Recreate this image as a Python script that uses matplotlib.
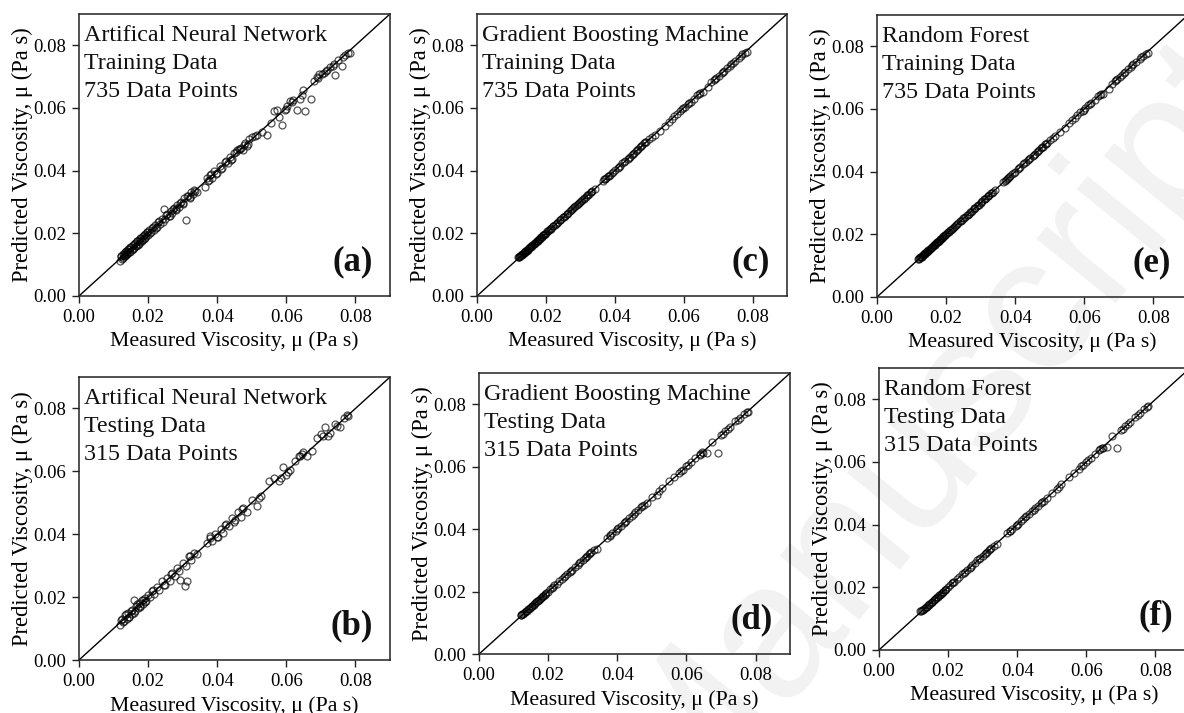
import matplotlib
matplotlib.use("Agg")
import matplotlib.pyplot as plt

# ---------------- data ----------------
train_measured = [
    0.0120, 0.0123, 0.0126, 0.0128, 0.0131, 0.0133, 0.0135, 0.0138, 0.0140, 0.0143,
    0.0146, 0.0149, 0.0152, 0.0155, 0.0158, 0.0161, 0.0164, 0.0167, 0.0170, 0.0173,
    0.0176, 0.0179, 0.0182, 0.0185, 0.0188, 0.0191, 0.0194, 0.0197, 0.0200, 0.0204,
    0.0208, 0.0212, 0.0216, 0.0220, 0.0225, 0.0230, 0.0235, 0.0240, 0.0245, 0.0250,
    0.0255, 0.0260, 0.0265, 0.0270, 0.0275, 0.0280, 0.0285, 0.0290, 0.0295, 0.0300,
    0.0305, 0.0310, 0.0315, 0.0320, 0.0325, 0.0330, 0.0335, 0.0342, 0.0365, 0.0370,
    0.0375, 0.0380, 0.0385, 0.0392, 0.0400, 0.0408, 0.0415, 0.0422, 0.0430, 0.0437,
    0.0443, 0.0450, 0.0456, 0.0462, 0.0468, 0.0474, 0.0480, 0.0486, 0.0492, 0.0500,
    0.0508, 0.0516, 0.0530, 0.0545, 0.0556, 0.0565, 0.0572, 0.0580, 0.0588, 0.0595,
    0.0603, 0.0612, 0.0620, 0.0630, 0.0640, 0.0648, 0.0655, 0.0670, 0.0680, 0.0688,
    0.0695, 0.0702, 0.0710, 0.0718, 0.0726, 0.0734, 0.0742, 0.0750, 0.0760, 0.0770,
    0.0778, 0.0785,
    0.0121, 0.0125, 0.0129, 0.0132, 0.0136, 0.0139, 0.0144, 0.0147, 0.0151, 0.0156,
    0.0160, 0.0165, 0.0169, 0.0174, 0.0178, 0.0183, 0.0187, 0.0192, 0.0198, 0.0206,
    0.0214, 0.0222, 0.0232, 0.0242, 0.0252, 0.0262, 0.0272, 0.0282, 0.0292, 0.0302,
    0.0312, 0.0322, 0.0332, 0.0372, 0.0382, 0.0396, 0.0411, 0.0426, 0.0440, 0.0453,
    0.0465, 0.0477, 0.0489, 0.0598, 0.0615, 0.0645, 0.0692, 0.0715, 0.0738, 0.0765,
]

ann_train_pred = [
    0.0112, 0.0128, 0.0120, 0.0135, 0.0127, 0.0140, 0.0131, 0.0145, 0.0136, 0.0150,
    0.0141, 0.0155, 0.0147, 0.0162, 0.0153, 0.0168, 0.0160, 0.0174, 0.0164, 0.0180,
    0.0171, 0.0186, 0.0178, 0.0192, 0.0183, 0.0199, 0.0190, 0.0205, 0.0196, 0.0210,
    0.0203, 0.0217, 0.0211, 0.0226, 0.0220, 0.0236, 0.0229, 0.0247, 0.0276, 0.0245,
    0.0262, 0.0254, 0.0270, 0.0264, 0.0281, 0.0274, 0.0291, 0.0284, 0.0300, 0.0293,
    0.0312, 0.0243, 0.0320, 0.0314, 0.0331, 0.0325, 0.0336, 0.0333, 0.0348, 0.0376,
    0.0370, 0.0386, 0.0378, 0.0398, 0.0394, 0.0415, 0.0409, 0.0428, 0.0423, 0.0443,
    0.0436, 0.0456, 0.0467, 0.0470, 0.0473, 0.0466, 0.0487, 0.0478, 0.0502, 0.0508,
    0.0512, 0.0514, 0.0522, 0.0515, 0.0553, 0.0590, 0.0592, 0.0570, 0.0545, 0.0592,
    0.0605, 0.0622, 0.0627, 0.0595, 0.0630, 0.0658, 0.0590, 0.0630, 0.0685, 0.0700,
    0.0707, 0.0708, 0.0712, 0.0722, 0.0730, 0.0735, 0.0705, 0.0752, 0.0735, 0.0770,
    0.0774, 0.0776,
    0.0127, 0.0119, 0.0133, 0.0126, 0.0142, 0.0133, 0.0149, 0.0141, 0.0157, 0.0150,
    0.0166, 0.0158, 0.0175, 0.0167, 0.0185, 0.0176, 0.0193, 0.0185, 0.0204, 0.0200,
    0.0220, 0.0216, 0.0238, 0.0236, 0.0258, 0.0256, 0.0278, 0.0276, 0.0298, 0.0296,
    0.0318, 0.0316, 0.0338, 0.0366, 0.0388, 0.0390, 0.0405, 0.0432, 0.0434, 0.0460,
    0.0470, 0.0482, 0.0484, 0.0598, 0.0620, 0.0640, 0.0695, 0.0718, 0.0741, 0.0762,
]

gbm_train_pred = [
    0.0123, 0.0125, 0.0127, 0.0130, 0.0132, 0.0135, 0.0137, 0.0139, 0.0142, 0.0144,
    0.0148, 0.0150, 0.0154, 0.0156, 0.0160, 0.0162, 0.0166, 0.0168, 0.0171, 0.0175,
    0.0177, 0.0181, 0.0183, 0.0187, 0.0189, 0.0193, 0.0195, 0.0199, 0.0201, 0.0206,
    0.0209, 0.0214, 0.0217, 0.0222, 0.0226, 0.0231, 0.0236, 0.0242, 0.0246, 0.0253,
    0.0256, 0.0261, 0.0266, 0.0271, 0.0276, 0.0281, 0.0286, 0.0291, 0.0297, 0.0301,
    0.0306, 0.0311, 0.0316, 0.0321, 0.0326, 0.0331, 0.0335, 0.0340, 0.0368, 0.0372,
    0.0377, 0.0382, 0.0386, 0.0393, 0.0401, 0.0409, 0.0416, 0.0423, 0.0431, 0.0437,
    0.0444, 0.0451, 0.0457, 0.0463, 0.0469, 0.0475, 0.0481, 0.0487, 0.0492, 0.0500,
    0.0507, 0.0514, 0.0527, 0.0541, 0.0556, 0.0566, 0.0573, 0.0580, 0.0589, 0.0596,
    0.0603, 0.0612, 0.0620, 0.0630, 0.0641, 0.0648, 0.0651, 0.0666, 0.0682, 0.0690,
    0.0697, 0.0703, 0.0711, 0.0719, 0.0727, 0.0735, 0.0743, 0.0751, 0.0760, 0.0771,
    0.0777, 0.0779,
    0.0123, 0.0126, 0.0130, 0.0133, 0.0137, 0.0140, 0.0145, 0.0148, 0.0152, 0.0157,
    0.0161, 0.0166, 0.0170, 0.0175, 0.0179, 0.0184, 0.0188, 0.0193, 0.0199, 0.0207,
    0.0215, 0.0223, 0.0233, 0.0243, 0.0253, 0.0263, 0.0273, 0.0283, 0.0293, 0.0303,
    0.0313, 0.0323, 0.0333, 0.0374, 0.0383, 0.0397, 0.0412, 0.0427, 0.0441, 0.0454,
    0.0466, 0.0478, 0.0490, 0.0599, 0.0615, 0.0645, 0.0693, 0.0716, 0.0739, 0.0766,
]

rf_train_pred = [
    0.0122, 0.0124, 0.0126, 0.0129, 0.0131, 0.0134, 0.0136, 0.0138, 0.0141, 0.0143,
    0.0147, 0.0150, 0.0153, 0.0155, 0.0159, 0.0162, 0.0165, 0.0167, 0.0171, 0.0174,
    0.0176, 0.0180, 0.0183, 0.0185, 0.0189, 0.0192, 0.0194, 0.0198, 0.0201, 0.0205,
    0.0208, 0.0213, 0.0216, 0.0221, 0.0225, 0.0231, 0.0235, 0.0241, 0.0245, 0.0251,
    0.0255, 0.0261, 0.0265, 0.0271, 0.0275, 0.0281, 0.0285, 0.0291, 0.0294, 0.0301,
    0.0305, 0.0312, 0.0315, 0.0321, 0.0325, 0.0331, 0.0334, 0.0340, 0.0367, 0.0371,
    0.0376, 0.0381, 0.0385, 0.0393, 0.0400, 0.0409, 0.0415, 0.0423, 0.0430, 0.0438,
    0.0443, 0.0451, 0.0456, 0.0463, 0.0468, 0.0475, 0.0480, 0.0487, 0.0492, 0.0500,
    0.0507, 0.0514, 0.0527, 0.0540, 0.0555, 0.0564, 0.0572, 0.0580, 0.0589, 0.0595,
    0.0604, 0.0612, 0.0620, 0.0630, 0.0640, 0.0648, 0.0648, 0.0664, 0.0681, 0.0689,
    0.0696, 0.0703, 0.0710, 0.0719, 0.0726, 0.0735, 0.0742, 0.0751, 0.0760, 0.0770,
    0.0777, 0.0779,
    0.0122, 0.0126, 0.0129, 0.0133, 0.0136, 0.0140, 0.0144, 0.0148, 0.0151, 0.0157,
    0.0160, 0.0166, 0.0169, 0.0175, 0.0178, 0.0184, 0.0187, 0.0193, 0.0198, 0.0207,
    0.0214, 0.0223, 0.0232, 0.0243, 0.0252, 0.0263, 0.0272, 0.0283, 0.0292, 0.0303,
    0.0312, 0.0323, 0.0331, 0.0373, 0.0382, 0.0397, 0.0411, 0.0427, 0.0440, 0.0454,
    0.0465, 0.0478, 0.0489, 0.0598, 0.0616, 0.0644, 0.0693, 0.0716, 0.0739, 0.0765,
]

test_measured = [
    0.0120, 0.0125, 0.0130, 0.0134, 0.0138, 0.0142, 0.0146, 0.0150, 0.0154, 0.0158,
    0.0162, 0.0166, 0.0170, 0.0174, 0.0178, 0.0182, 0.0186, 0.0190, 0.0195, 0.0200,
    0.0206, 0.0212, 0.0218, 0.0225, 0.0232, 0.0240, 0.0248, 0.0255, 0.0262, 0.0270,
    0.0278, 0.0285, 0.0292, 0.0300, 0.0306, 0.0312, 0.0318, 0.0325, 0.0333, 0.0342,
    0.0370, 0.0378, 0.0386, 0.0395, 0.0402, 0.0410, 0.0418, 0.0426, 0.0435, 0.0443,
    0.0452, 0.0460, 0.0468, 0.0476, 0.0485, 0.0500, 0.0515, 0.0528, 0.0550, 0.0565,
    0.0578, 0.0590, 0.0600, 0.0612, 0.0625, 0.0638, 0.0648, 0.0660, 0.0675, 0.0690,
    0.0700, 0.0712, 0.0725, 0.0740, 0.0755, 0.0768, 0.0778,
    0.0122, 0.0128, 0.0136, 0.0144, 0.0152, 0.0160, 0.0168, 0.0176, 0.0184, 0.0192,
    0.0215, 0.0245, 0.0265, 0.0290, 0.0310, 0.0322, 0.0380, 0.0398, 0.0422, 0.0448,
    0.0472, 0.0520, 0.0585, 0.0605, 0.0640, 0.0645, 0.0705, 0.0720, 0.0748, 0.0775,
]

ann_test_pred = [
    0.0110, 0.0132, 0.0124, 0.0142, 0.0131, 0.0150, 0.0138, 0.0157, 0.0146, 0.0190,
    0.0156, 0.0173, 0.0164, 0.0182, 0.0171, 0.0192, 0.0177, 0.0198, 0.0188, 0.0207,
    0.0200, 0.0219, 0.0210, 0.0233, 0.0222, 0.0250, 0.0238, 0.0262, 0.0250, 0.0278,
    0.0266, 0.0292, 0.0255, 0.0310, 0.0235, 0.0250, 0.0330, 0.0318, 0.0340, 0.0336,
    0.0372, 0.0395, 0.0380, 0.0402, 0.0390, 0.0418, 0.0405, 0.0432, 0.0425, 0.0453,
    0.0445, 0.0472, 0.0455, 0.0482, 0.0470, 0.0510, 0.0490, 0.0522, 0.0568, 0.0580,
    0.0570, 0.0615, 0.0590, 0.0605, 0.0632, 0.0648, 0.0660, 0.0650, 0.0665, 0.0705,
    0.0718, 0.0742, 0.0722, 0.0750, 0.0742, 0.0770, 0.0775,
    0.0128, 0.0120, 0.0145, 0.0136, 0.0160, 0.0150, 0.0178, 0.0168, 0.0192, 0.0183,
    0.0222, 0.0238, 0.0272, 0.0282, 0.0300, 0.0330, 0.0388, 0.0392, 0.0430, 0.0440,
    0.0480, 0.0515, 0.0578, 0.0598, 0.0648, 0.0655, 0.0712, 0.0712, 0.0745, 0.0778,
]

gbm_test_pred = [
    0.0125, 0.0127, 0.0131, 0.0135, 0.0139, 0.0143, 0.0146, 0.0151, 0.0155, 0.0158,
    0.0163, 0.0166, 0.0171, 0.0174, 0.0179, 0.0182, 0.0187, 0.0190, 0.0196, 0.0200,
    0.0207, 0.0212, 0.0220, 0.0225, 0.0233, 0.0240, 0.0250, 0.0255, 0.0264, 0.0270,
    0.0280, 0.0285, 0.0294, 0.0301, 0.0307, 0.0313, 0.0320, 0.0326, 0.0332, 0.0338,
    0.0372, 0.0379, 0.0388, 0.0395, 0.0404, 0.0410, 0.0420, 0.0426, 0.0437, 0.0443,
    0.0454, 0.0460, 0.0470, 0.0476, 0.0485, 0.0502, 0.0510, 0.0532, 0.0553, 0.0566,
    0.0580, 0.0590, 0.0601, 0.0614, 0.0627, 0.0639, 0.0645, 0.0645, 0.0680, 0.0643,
    0.0702, 0.0714, 0.0727, 0.0745, 0.0755, 0.0770, 0.0777,
    0.0124, 0.0129, 0.0137, 0.0145, 0.0153, 0.0161, 0.0169, 0.0177, 0.0185, 0.0193,
    0.0216, 0.0246, 0.0266, 0.0291, 0.0311, 0.0323, 0.0381, 0.0399, 0.0423, 0.0449,
    0.0473, 0.0521, 0.0586, 0.0606, 0.0641, 0.0646, 0.0706, 0.0721, 0.0749, 0.0775,
]

rf_test_pred = [
    0.0123, 0.0126, 0.0130, 0.0135, 0.0138, 0.0143, 0.0146, 0.0151, 0.0154, 0.0159,
    0.0162, 0.0167, 0.0170, 0.0175, 0.0178, 0.0183, 0.0186, 0.0191, 0.0195, 0.0201,
    0.0206, 0.0213, 0.0218, 0.0226, 0.0232, 0.0241, 0.0248, 0.0256, 0.0262, 0.0271,
    0.0278, 0.0286, 0.0292, 0.0301, 0.0306, 0.0313, 0.0318, 0.0327, 0.0333, 0.0338,
    0.0372, 0.0379, 0.0387, 0.0396, 0.0402, 0.0411, 0.0418, 0.0427, 0.0435, 0.0444,
    0.0452, 0.0461, 0.0468, 0.0477, 0.0485, 0.0501, 0.0514, 0.0529, 0.0552, 0.0566,
    0.0579, 0.0591, 0.0600, 0.0613, 0.0625, 0.0639, 0.0646, 0.0648, 0.0684, 0.0645,
    0.0703, 0.0714, 0.0727, 0.0744, 0.0756, 0.0770, 0.0778,
    0.0123, 0.0128, 0.0137, 0.0144, 0.0153, 0.0160, 0.0169, 0.0176, 0.0185, 0.0192,
    0.0216, 0.0245, 0.0266, 0.0290, 0.0311, 0.0322, 0.0381, 0.0398, 0.0423, 0.0448,
    0.0473, 0.0520, 0.0586, 0.0605, 0.0641, 0.0645, 0.0706, 0.0720, 0.0749, 0.0775,
]

tick_values = [0.00, 0.02, 0.04, 0.06, 0.08]
tick_labels = ["0.00", "0.02", "0.04", "0.06", "0.08"]

panels = [
    # (measured, predicted, model, subset, count, tag, axes rect)
    (train_measured, ann_train_pred, "Artifical Neural Network", "Training Data", 735, "(a)",
     [0.0667, 0.5849, 0.2627, 0.3955]),
    (test_measured, ann_test_pred, "Artifical Neural Network", "Testing Data", 315, "(b)",
     [0.0667, 0.0743, 0.2627, 0.3969]),
    (train_measured, gbm_train_pred, "Gradient Boosting Machine", "Training Data", 735, "(c)",
     [0.4029, 0.5849, 0.2618, 0.3955]),
    (test_measured, gbm_test_pred, "Gradient Boosting Machine", "Testing Data", 315, "(d)",
     [0.4046, 0.0827, 0.2627, 0.3940]),
    (train_measured, rf_train_pred, "Random Forest", "Training Data", 735, "(e)",
     [0.7407, 0.5835, 0.2627, 0.3955]),
    (test_measured, rf_test_pred, "Random Forest", "Testing Data", 315, "(f)",
     [0.7424, 0.0884, 0.2627, 0.3955]),
]

# ---------------- figure ----------------
plt.rcParams["font.family"] = ["Liberation Serif", "DejaVu Serif"]

fig = plt.figure(figsize=(11.84, 7.13), dpi=100)

# faint background watermark
fig.text(0.79, 0.40, "Manuscript", rotation=51, fontsize=139,
         family="Liberation Sans", color="#f2f2f2", ha="center", va="center",
         zorder=-5)

for meas, pred, model, subset, n, tag, rect in panels:
    ax = fig.add_axes(rect)
    ax.patch.set_alpha(0)
    ax.set_xlim(0, 0.09)
    ax.set_ylim(0, 0.09)

    ax.plot([0, 0.09], [0, 0.09], color="black", lw=1.0, zorder=2)
    ax.plot(meas, pred, linestyle="none", marker="o", markersize=5.0,
            markerfacecolor="none", markeredgecolor="black",
            markeredgewidth=0.9, alpha=0.68, zorder=3)

    ax.set_xticks(tick_values)
    ax.set_xticklabels(tick_labels)
    ax.set_yticks(tick_values)
    ax.set_yticklabels(tick_labels)
    ax.tick_params(direction="out", length=5, width=1, labelsize=13.5, pad=4.5,
                   top=False, right=False, color="#222222")
    for sp in ax.spines.values():
        sp.set_linewidth(1.1)
        sp.set_color("#222222")

    ax.set_xlabel("Measured Viscosity, μ (Pa s)", fontsize=15.7, labelpad=4)
    ax.set_ylabel("Predicted Viscosity, μ (Pa s)", fontsize=16.3, labelpad=0)

    ax.text(0.015, 0.96, f"{model}\n{subset}\n{n} Data Points",
            transform=ax.transAxes, ha="left", va="top", fontsize=17.3,
            linespacing=1.42, color="#111111")
    ax.text(0.945, 0.09, tag, transform=ax.transAxes, ha="right",
            va="baseline", fontsize=25, fontweight="bold", color="#111111")

fig.savefig("out.png", dpi=100)
